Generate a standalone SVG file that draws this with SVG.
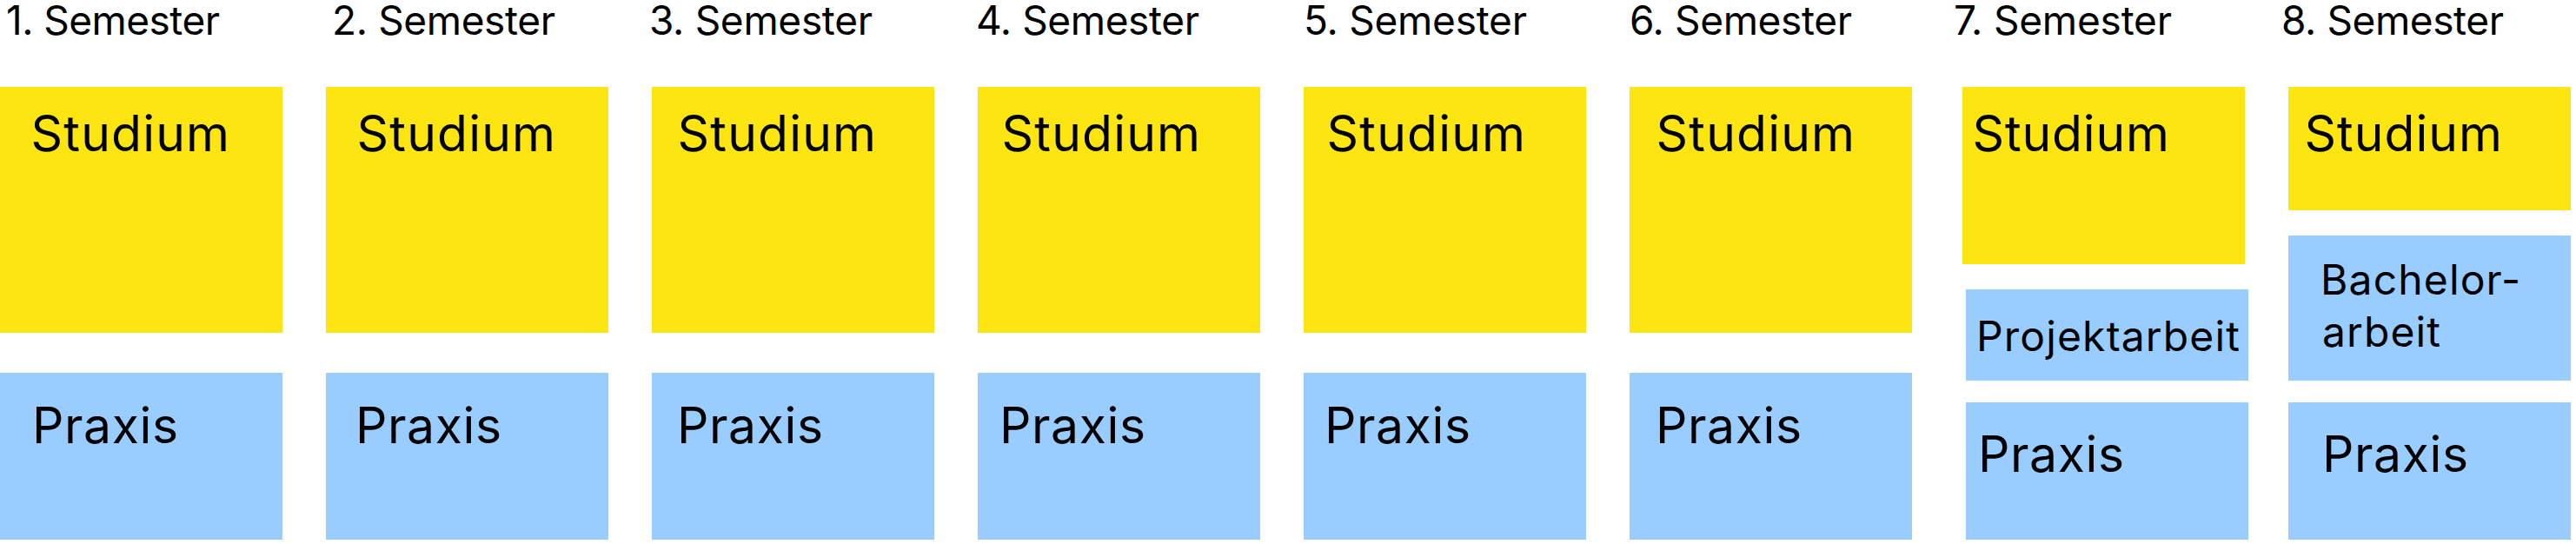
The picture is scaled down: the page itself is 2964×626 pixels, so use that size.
<svg xmlns="http://www.w3.org/2000/svg" width="2964" height="626" viewBox="0 0 2964 626">
<style>
.y{fill:#FDE511}
.b{fill:#99CCFF}
.h{font-family:Inter,"Noto Sans",sans-serif;font-size:46px;fill:#000}
.t{font-family:Inter,"Noto Sans",sans-serif;font-size:57px;fill:#000}
.s{font-family:Inter,"Noto Sans",sans-serif;font-size:48px;fill:#000}
</style>
<rect width="2964" height="626" fill="#fff"/>
<g id="headers">
<text class="h" x="7" y="40" textLength="246">1. Semester</text>
<text class="h" x="382" y="40" textLength="257">2. Semester</text>
<text class="h" x="747" y="40" textLength="257">3. Semester</text>
<text class="h" x="1123" y="40" textLength="257">4. Semester</text>
<text class="h" x="1500" y="40" textLength="257">5. Semester</text>
<text class="h" x="1875" y="40" textLength="256">6. Semester</text>
<text class="h" x="2248" y="40" textLength="251">7. Semester</text>
<text class="h" x="2625" y="40" textLength="256">8. Semester</text>
</g>
<g id="s1-studium"><rect class="y" x="0" y="100" width="325" height="283"/><text class="t" x="35.5" y="174" textLength="228.5">Studium</text></g>
<g id="s1-praxis"><rect class="b" x="0" y="429" width="325" height="192"/><text class="t" x="37" y="510" textLength="168">Praxis</text></g>
<g id="s2-studium"><rect class="y" x="375" y="100" width="325" height="283"/><text class="t" x="410.5" y="174" textLength="228.5">Studium</text></g>
<g id="s2-praxis"><rect class="b" x="375" y="429" width="325" height="192"/><text class="t" x="409" y="510" textLength="168">Praxis</text></g>
<g id="s3-studium"><rect class="y" x="750" y="100" width="325" height="283"/><text class="t" x="779.5" y="174" textLength="228.5">Studium</text></g>
<g id="s3-praxis"><rect class="b" x="750" y="429" width="325" height="192"/><text class="t" x="779" y="510" textLength="168">Praxis</text></g>
<g id="s4-studium"><rect class="y" x="1125" y="100" width="325" height="283"/><text class="t" x="1152.5" y="174" textLength="228.5">Studium</text></g>
<g id="s4-praxis"><rect class="b" x="1125" y="429" width="325" height="192"/><text class="t" x="1150" y="510" textLength="168">Praxis</text></g>
<g id="s5-studium"><rect class="y" x="1500" y="100" width="325" height="283"/><text class="t" x="1526.5" y="174" textLength="228.5">Studium</text></g>
<g id="s5-praxis"><rect class="b" x="1500" y="429" width="325" height="192"/><text class="t" x="1524" y="510" textLength="168">Praxis</text></g>
<g id="s6-studium"><rect class="y" x="1875" y="100" width="325" height="283"/><text class="t" x="1905.5" y="174" textLength="228.5">Studium</text></g>
<g id="s6-praxis"><rect class="b" x="1875" y="429" width="325" height="192"/><text class="t" x="1905" y="510" textLength="168">Praxis</text></g>
<g id="s7-studium"><rect class="y" x="2258" y="100" width="325" height="204"/><text class="t" x="2269.5" y="174" textLength="226.5">Studium</text></g>
<g id="s7-projekt"><rect class="b" x="2262" y="333" width="325" height="105"/><text class="s" x="2274" y="404" textLength="303">Projektarbeit</text></g>
<g id="s7-praxis"><rect class="b" x="2262" y="463" width="325" height="158"/><text class="t" x="2276" y="543" textLength="168">Praxis</text></g>
<g id="s8-studium"><rect class="y" x="2633" y="100" width="325" height="142"/><text class="t" x="2651.5" y="174" textLength="227.5">Studium</text></g>
<g id="s8-bachelor"><rect class="b" x="2633" y="271" width="325" height="167"/><text class="s" x="2670" y="339" textLength="230">Bachelor-</text><text class="s" x="2672" y="399" textLength="136">arbeit</text></g>
<g id="s8-praxis"><rect class="b" x="2633" y="463" width="325" height="158"/><text class="t" x="2672" y="543" textLength="168">Praxis</text></g>
<g id="connectors"/>
</svg>
